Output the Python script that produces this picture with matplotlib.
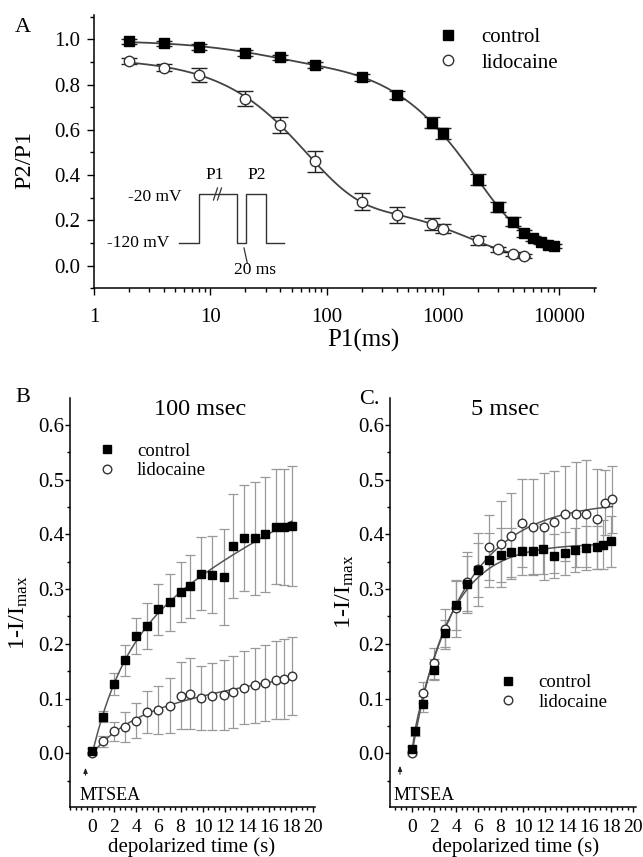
import numpy as np
import matplotlib
matplotlib.use('Agg')
import matplotlib.pyplot as plt
from matplotlib.lines import Line2D
from matplotlib.ticker import MultipleLocator, LogLocator, FixedFormatter, FixedLocator

plt.rcParams['font.family'] = ['Liberation Serif', 'DejaVu Serif']
plt.rcParams['mathtext.fontset'] = 'custom'
plt.rcParams['mathtext.rm'] = 'Liberation Serif'
plt.rcParams['mathtext.it'] = 'Liberation Serif:italic'

# ---- panel A : P2/P1 vs P1 duration ----
a_t_ctrl = [2, 4, 8, 20, 40, 80, 200, 400, 800, 1000, 2000, 3000, 4000, 5000, 6000, 7000, 8000, 9000]
a_y_ctrl = [0.99, 0.982, 0.965, 0.94, 0.92, 0.885, 0.832, 0.755, 0.632, 0.585, 0.38, 0.26, 0.195,
            0.143, 0.12, 0.105, 0.093, 0.087]
a_e_ctrl = [0.012, 0.01, 0.012, 0.012, 0.012, 0.014, 0.015, 0.018, 0.025, 0.025, 0.025, 0.022, 0.02,
            0.015, 0.012, 0.01, 0.01, 0.01]
a_t_lido = [2, 4, 8, 20, 40, 80, 200, 400, 800, 1000, 2000, 3000, 4000, 5000]
a_y_lido = [0.904, 0.875, 0.842, 0.738, 0.621, 0.46, 0.283, 0.224, 0.183, 0.163, 0.113, 0.072, 0.052, 0.043]
a_e_lido = [0.012, 0.015, 0.03, 0.034, 0.037, 0.048, 0.037, 0.034, 0.026, 0.02, 0.02, 0.012, 0.01, 0.01]

# ---- panel B : 100 msec ----
b_t = [0, 1, 2, 3, 4, 5, 6, 7, 8, 8.9, 9.9, 10.9, 11.9, 12.8, 13.8, 14.8, 15.7, 16.7, 17.4, 18.1]
b_ctrl = [0.005, 0.067, 0.126, 0.170, 0.215, 0.233, 0.263, 0.276, 0.294, 0.305, 0.328, 0.326, 0.322,
          0.378, 0.393, 0.393, 0.400, 0.414, 0.413, 0.415]
b_ctrl_err = [0.004, 0.01, 0.02, 0.028, 0.033, 0.042, 0.047, 0.052, 0.055, 0.057, 0.067, 0.07, 0.087,
              0.095, 0.097, 0.103, 0.105, 0.105, 0.106, 0.11]
b_lido = [0.0, 0.022, 0.040, 0.048, 0.059, 0.075, 0.079, 0.087, 0.105, 0.109, 0.101, 0.104, 0.107,
          0.112, 0.120, 0.124, 0.128, 0.134, 0.135, 0.141]
b_lido_err = [0.003, 0.01, 0.018, 0.027, 0.032, 0.038, 0.043, 0.05, 0.061, 0.065, 0.059, 0.061, 0.064,
              0.066, 0.067, 0.069, 0.069, 0.072, 0.073, 0.071]

# ---- panel C : 5 msec ----
c_t_ctrl = [0, 0.3, 1, 2, 3, 4, 5, 6, 7, 8, 8.9, 9.9, 10.9, 11.8, 12.8, 13.8, 14.7, 15.7, 16.7, 17.3, 18.0]
c_ctrl = [0.008, 0.04, 0.09, 0.153, 0.219, 0.27, 0.31, 0.335, 0.353, 0.362, 0.367, 0.37, 0.37, 0.373,
          0.36, 0.365, 0.371, 0.375, 0.376, 0.381, 0.387]
c_ctrl_err = [0.005, 0.008, 0.015, 0.02, 0.025, 0.045, 0.05, 0.05, 0.05, 0.05, 0.045, 0.045, 0.045,
              0.045, 0.04, 0.04, 0.04, 0.04, 0.04, 0.045, 0.047]
c_t_lido = [0, 1, 2, 3, 4, 5, 6, 7, 8, 8.9, 9.9, 10.9, 11.9, 12.8, 13.8, 14.8, 15.7, 16.7, 17.4, 18.1]
c_lido = [0.0, 0.111, 0.164, 0.227, 0.265, 0.312, 0.336, 0.376, 0.382, 0.397, 0.421, 0.414, 0.414,
          0.423, 0.438, 0.437, 0.438, 0.428, 0.458, 0.464]
c_lido_err = [0.004, 0.02, 0.028, 0.036, 0.052, 0.056, 0.067, 0.06, 0.078, 0.079, 0.08, 0.087, 0.098,
              0.093, 0.086, 0.096, 0.098, 0.092, 0.06, 0.061]

W, H = 643, 857


def fx(x):
    return x / W


def fy(y):
    return 1 - y / H


# least squares two-exponential fits (grid over time constants)
def fit_decay(t, y):
    t = np.asarray(t, float)
    y = np.asarray(y, float)
    taus = np.logspace(0, 4.5, 90)
    best = (np.inf, None)
    for i, t1 in enumerate(taus):
        for t2 in taus[i + 1:]:
            m = np.column_stack([np.ones_like(t), np.exp(-t / t1), np.exp(-t / t2)])
            c, *_ = np.linalg.lstsq(m, y, rcond=None)
            if np.any(c < 0):
                continue
            r = np.sum((m @ c - y) ** 2)
            if r < best[0]:
                best = (r, (c, t1, t2))
    c, t1, t2 = best[1]
    return lambda x: c[0] + c[1] * np.exp(-x / t1) + c[2] * np.exp(-x / t2)


def fit_rise(t, y):
    t = np.asarray(t, float)
    y = np.asarray(y, float)
    taus = np.logspace(-0.7, 2.7, 90)
    best = (np.inf, None)
    for i, t1 in enumerate(taus):
        for t2 in taus[i:]:
            m = np.column_stack([1 - np.exp(-t / t1), 1 - np.exp(-t / t2)])
            c, *_ = np.linalg.lstsq(m, y, rcond=None)
            if np.any(c < 0):
                continue
            r = np.sum((m @ c - y) ** 2)
            if r < best[0]:
                best = (r, (c, t1, t2))
    c, t1, t2 = best[1]
    return lambda x: c[0] * (1 - np.exp(-x / t1)) + c[1] * (1 - np.exp(-x / t2))


fig = plt.figure(figsize=(6.43, 8.57), dpi=100)

sq = dict(marker='s', mfc='black', mec='black', ls='none')
ci = dict(marker='o', mfc='white', mec='#333333', mew=1.0, ls='none')


def style_axes(ax):
    for s in ['top', 'right']:
        ax.spines[s].set_visible(False)
    for s in ['left', 'bottom']:
        ax.spines[s].set_linewidth(1.1)
    ax.tick_params(which='both', direction='out', width=1.0)


# ================= A =================
axA = fig.add_axes([fx(94), fy(288.3), fx(595.6) - fx(94), fy(15) - fy(288.3)])
style_axes(axA)
axA.set_xscale('log')
axA.set_xlim(1, 10 ** (501.6 / 116.3))
axA.set_ylim(-0.1, 1.107)

f_ctrl = fit_decay(a_t_ctrl, a_y_ctrl)
f_lido = fit_decay(a_t_lido, a_y_lido)
xc = np.logspace(np.log10(2), np.log10(10000), 300)
xl = np.logspace(np.log10(2), np.log10(5600), 300)
axA.plot(xc, f_ctrl(xc), color='#444444', lw=1.3, zorder=2)
axA.plot(xl, f_lido(xl), color='#444444', lw=1.3, zorder=2)
axA.errorbar(a_t_ctrl, a_y_ctrl, yerr=a_e_ctrl, fmt='none', ecolor='#222222', elinewidth=1.0,
             capsize=5.5, capthick=1.0, zorder=3)
axA.errorbar(a_t_lido, a_y_lido, yerr=a_e_lido, fmt='none', ecolor='#222222', elinewidth=1.0,
             capsize=5.5, capthick=1.0, zorder=3)
axA.plot(a_t_ctrl, a_y_ctrl, ms=7.5, zorder=4, **sq)
axA.plot(a_t_lido, a_y_lido, ms=7.5, zorder=4, **ci)

axA.xaxis.set_major_locator(FixedLocator([1, 10, 100, 1000, 10000]))
axA.xaxis.set_major_formatter(FixedFormatter(['1', '10', '100', '1000', '10000']))
axA.xaxis.set_minor_locator(LogLocator(base=10, subs=np.arange(2, 10)))
axA.xaxis.set_minor_formatter(plt.NullFormatter())
axA.yaxis.set_major_locator(FixedLocator([0.0, 0.2, 0.4, 0.6, 0.8, 1.0]))
axA.yaxis.set_major_formatter(FixedFormatter(['0.0', '0.2', '0.4', '0.6', '0.8', '1.0']))
axA.yaxis.set_minor_locator(FixedLocator([-0.1, 0.1, 0.3, 0.5, 0.7, 0.9, 1.1]))
axA.tick_params(which='major', length=5, labelsize=15)
axA.tick_params(which='minor', length=2.8)
axA.tick_params(axis='x', which='major', pad=9)
axA.tick_params(axis='y', which='major', pad=5)

axA.legend([Line2D([], [], ms=7.5, **sq), Line2D([], [], ms=7.5, **ci)], ['control', 'lidocaine'],
           loc='center left', bbox_to_anchor=(fx(437.6), fy(50)), bbox_transform=fig.transFigure,
           frameon=False, fontsize=15, handlelength=1.0, handletextpad=1.1, labelspacing=0.3,
           borderpad=0, borderaxespad=0)

fig.text(fx(23), fy(27), 'A', fontsize=16, ha='center', va='center')
fig.text(fx(25), fy(160), 'P2/P1', fontsize=17.5, rotation=90, ha='center', va='center')
fig.text(fx(363), fy(340), 'P1(ms)', fontsize=18, ha='center', va='center')

# pulse protocol inset
px_ = [179.3, 199.1, 199.1, 237, 237, 246.1, 246.1, 265.9, 265.9, 284.4]
py_ = [243.3, 243.3, 194.3, 194.3, 243.3, 243.3, 194.3, 194.3, 243.3, 243.3]
fig.add_artist(Line2D([fx(v) for v in px_], [fy(v) for v in py_], color='#333333', lw=1.0,
                      transform=fig.transFigure))
for bx in [215.5, 219.5]:
    fig.add_artist(Line2D([fx(bx - 2), fx(bx + 2)], [fy(200), fy(188)], color='#333333', lw=0.9,
                          transform=fig.transFigure))
fig.add_artist(Line2D([fx(244), fx(247.3)], [fy(248), fy(263)], color='#333333', lw=0.9,
                      transform=fig.transFigure))
fig.text(fx(214.3), fy(175), 'P1', fontsize=12.5, ha='center', va='center')
fig.text(fx(256.4), fy(175), 'P2', fontsize=12.5, ha='center', va='center')
fig.text(fx(181.4), fy(196.7), '-20 mV', fontsize=12.5, ha='right', va='center')
fig.text(fx(169), fy(243.3), '-120 mV', fontsize=12.5, ha='right', va='center')
fig.text(fx(254.5), fy(270), '20 ms', fontsize=12.5, ha='center', va='center')


# ================= B and C =================
def recovery_panel(left, right, xmin, xmax):
    ax = fig.add_axes([fx(left), fy(806.7), fx(right) - fx(left), fy(398) - fy(806.7)])
    style_axes(ax)
    ax.set_xlim(xmin, xmax)
    ax.set_ylim(-0.0976, 0.649)
    ax.xaxis.set_minor_locator(MultipleLocator(0.5))
    ax.yaxis.set_major_locator(FixedLocator([0.0, 0.1, 0.2, 0.3, 0.4, 0.5, 0.6]))
    ax.yaxis.set_major_formatter(FixedFormatter(['0.0', '0.1', '0.2', '0.3', '0.4', '0.5', '0.6']))
    ax.yaxis.set_minor_locator(MultipleLocator(0.05))
    ax.set_xticks(range(0, 21, 2))
    ax.set_xticklabels([str(v) for v in range(0, 21, 2)])
    ax.tick_params(which='major', length=3.5)
    ax.tick_params(which='minor', length=2)
    ax.tick_params(axis='y', which='major', labelsize=15, pad=1)
    ax.tick_params(axis='x', which='major', labelsize=14, pad=5)
    return ax


axB = recovery_panel(70.3, 315, -2.0, 20.2)
axC = recovery_panel(390.3, 635.6, -1.96, 20.2)

tt = np.linspace(0, 18.1, 300)
for ax, tc, yc, ec, tl, yl, el in [
        (axB, b_t, b_ctrl, b_ctrl_err, b_t, b_lido, b_lido_err),
        (axC, c_t_ctrl, c_ctrl, c_ctrl_err, c_t_lido, c_lido, c_lido_err)]:
    ax.plot(tt, fit_rise(tc, yc)(tt), color='#555555', lw=1.1, zorder=2)
    ax.plot(tt, fit_rise(tl, yl)(tt), color='#555555', lw=1.1, zorder=2)
    ax.errorbar(tc, yc, yerr=ec, fmt='none', ecolor='#999999', elinewidth=0.9, capsize=3.5,
                capthick=0.9, zorder=1)
    ax.errorbar(tl, yl, yerr=el, fmt='none', ecolor='#999999', elinewidth=0.9, capsize=3.5,
                capthick=0.9, zorder=1)
    ax.plot(tc, yc, ms=5.8, zorder=4, **sq)
    ax.plot(tl, yl, ms=6.2, zorder=3, **ci)

for ax, hx, hy in [(axB, 97.6, 461), (axC, 498.9, 692.5)]:
    ax.legend([Line2D([], [], ms=5.8, **sq), Line2D([], [], ms=6.2, **ci)], ['control', 'lidocaine'],
              loc='center left', bbox_to_anchor=(fx(hx), fy(hy)), bbox_transform=fig.transFigure,
              frameon=False, fontsize=13.5, handlelength=1.0, handletextpad=1.1, labelspacing=0.12,
              borderpad=0, borderaxespad=0)

fig.text(fx(22.7), fy(397), 'B', fontsize=16, ha='center', va='center')
fig.text(fx(369), fy(400), 'C.', fontsize=16, ha='center', va='center')
fig.text(fx(200), fy(410), '100 msec', fontsize=17.5, ha='center', va='center')
fig.text(fx(505), fy(410), '5 msec', fontsize=17.5, ha='center', va='center')
fig.text(fx(19), fy(613), r'1-I/I$_{\mathrm{max}}$', fontsize=17.5, rotation=90, ha='center', va='center')
fig.text(fx(345), fy(592), r'1-I/I$_{\mathrm{max}}$', fontsize=17.5, rotation=90, ha='center', va='center')
fig.text(fx(192), fy(847), 'depolarized time (s)', fontsize=15, ha='center', va='center')
fig.text(fx(516), fy(847), 'depolarized time (s)', fontsize=15, ha='center', va='center')

for ax_x, tx, ytop, ybot in [(85.5, 80, 765, 778), (400, 394, 763, 777)]:
    fig.add_artist(plt.Annotation('', xy=(fx(ax_x), fy(ytop)), xytext=(fx(ax_x), fy(ybot)),
                                  xycoords='figure fraction', textcoords='figure fraction',
                                  arrowprops=dict(arrowstyle='-|>,head_length=0.3,head_width=0.12',
                                                  color='#222222', lw=0.8)))
    fig.text(fx(tx), fy(796), 'MTSEA', fontsize=13, ha='left', va='center')

fig.savefig('out.png', dpi=100)
